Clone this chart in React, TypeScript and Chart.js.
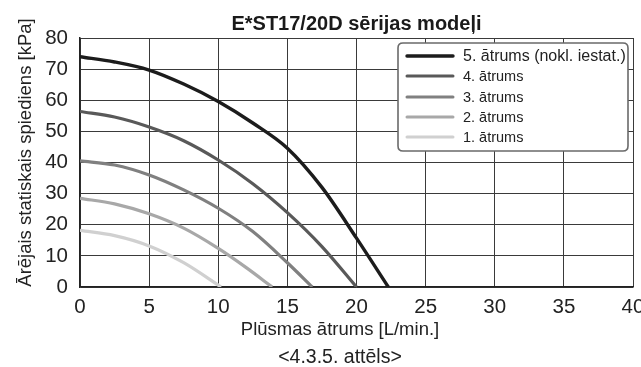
import React, { useEffect, useRef } from "react";
import { Chart, registerables } from "chart.js";

Chart.register(...registerables);

// ---------- data ----------
const TITLE = "E*ST17/20D sērijas modeļi";
const X_TITLE = "Plūsmas ātrums [L/min.]";
const Y_TITLE = "Ārējais statiskais spiediens [kPa]";
const CAPTION = "<4.3.5. attēls>";

const seriesLabels = [
  "5. ātrums (nokl. iestat.)",
  "4. ātrums",
  "3. ātrums",
  "2. ātrums",
  "1. ātrums",
];
const seriesColors = ["#1c1c1c", "#595959", "#808080", "#a8a8a8", "#d0d0d0"];

const speed5Flow = [0, 2.5, 5, 7.5, 10, 12.5, 15, 17.5, 20, 22.3];
const speed5Pressure = [74, 72.3, 69.7, 65.2, 59.6, 52.7, 44.6, 32, 15.7, 0];

const speed4Flow = [0, 2.5, 5, 7.5, 10, 12.5, 15, 17.5, 20];
const speed4Pressure = [56.4, 54.6, 51.4, 47, 40.8, 33.2, 23.9, 13, 0];

const speed3Flow = [0, 2.5, 5, 7.5, 10, 12.5, 15, 16.8];
const speed3Pressure = [40.5, 39.2, 36, 31.2, 25.3, 17.8, 7.8, 0];

const speed2Flow = [0, 2.5, 5, 7.5, 10, 12, 13.9];
const speed2Pressure = [28.5, 26.7, 23.5, 18.9, 12.4, 6.3, 0];

const speed1Flow = [0, 2.5, 5, 7.5, 10.2];
const speed1Pressure = [18.2, 16.5, 13.2, 7.8, 0];

const X_MIN = 0;
const X_MAX = 40;
const X_STEP = 5;
const Y_MIN = 0;
const Y_MAX = 80;
const Y_STEP = 10;

const FONT = "'Liberation Sans', Arial, Helvetica, sans-serif";

const seriesFlows = [speed5Flow, speed4Flow, speed3Flow, speed2Flow, speed1Flow];
const seriesPressures = [speed5Pressure, speed4Pressure, speed3Pressure, speed2Pressure, speed1Pressure];

const textPlugin = {
  id: "customTexts",
  afterDraw(chart: any) {
    const ctx = chart.ctx as CanvasRenderingContext2D;
    const a = chart.chartArea;
    ctx.save();

    // ----- legend box -----
    const bw = 230;
    const bh = 108;
    const bx = a.right - 5 - bw;
    const by = a.top + 5;
    const r = 5;
    ctx.beginPath();
    ctx.moveTo(bx + r, by);
    ctx.lineTo(bx + bw - r, by);
    ctx.quadraticCurveTo(bx + bw, by, bx + bw, by + r);
    ctx.lineTo(bx + bw, by + bh - r);
    ctx.quadraticCurveTo(bx + bw, by + bh, bx + bw - r, by + bh);
    ctx.lineTo(bx + r, by + bh);
    ctx.quadraticCurveTo(bx, by + bh, bx, by + bh - r);
    ctx.lineTo(bx, by + r);
    ctx.quadraticCurveTo(bx, by, bx + r, by);
    ctx.closePath();
    ctx.fillStyle = "#ffffff";
    ctx.fill();
    ctx.lineWidth = 1.6;
    ctx.strokeStyle = "#6a6a6a";
    ctx.stroke();

    const rowOffsets = [13, 33, 54, 74, 94];
    chart.data.datasets.forEach((ds: any, i: number) => {
      const y = by + rowOffsets[i];
      ctx.beginPath();
      ctx.moveTo(bx + 9, y);
      ctx.lineTo(bx + 55, y);
      ctx.lineWidth = i === 0 ? 3.4 : 3;
      ctx.strokeStyle = ds.borderColor;
      ctx.lineCap = "round";
      ctx.stroke();
      ctx.fillStyle = "#222";
      ctx.font = (i === 0 ? "16px " : "14.5px ") + FONT;
      ctx.textAlign = "left";
      ctx.textBaseline = "middle";
      ctx.fillText(ds.label, bx + 65, y + 1);
    });

    // ----- title -----
    ctx.fillStyle = "#1a1a1a";
    ctx.textAlign = "center";
    ctx.textBaseline = "alphabetic";
    ctx.font = "bold 20px " + FONT;
    ctx.fillText(TITLE, (a.left + a.right) / 2, 30);

    // ----- x title -----
    ctx.fillStyle = "#222";
    ctx.font = "18.5px " + FONT;
    ctx.fillText(X_TITLE, 340, 335);

    // ----- caption -----
    ctx.font = "19.5px " + FONT;
    ctx.fillText(CAPTION, 340, 363);

    // ----- y title -----
    ctx.translate(31, 152.5);
    ctx.rotate(-Math.PI / 2);
    ctx.font = "18.5px " + FONT;
    ctx.fillText(Y_TITLE, 0, 0);

    ctx.restore();
  },
};

export default function App() {
  const ref = useRef<HTMLCanvasElement | null>(null);

  useEffect(() => {
    if (!ref.current) return;
    const datasets = seriesLabels.map((label, i) => ({
      label,
      data: seriesFlows[i].map((x, j) => ({ x, y: seriesPressures[i][j] })),
      borderColor: seriesColors[i],
      backgroundColor: seriesColors[i],
      borderWidth: i === 0 ? 3.4 : 3.2,
      pointRadius: 0,
      cubicInterpolationMode: "monotone" as const,
      fill: false,
    }));

    const chart = new Chart(ref.current, {
      type: "line",
      data: { datasets },
      options: {
        animation: false,
        responsive: false,
        devicePixelRatio: 1,
        layout: { padding: { left: 0, top: 38, right: 8, bottom: 50 } },
        plugins: {
          legend: { display: false },
          title: { display: false },
          tooltip: { enabled: false },
        },
        scales: {
          x: {
            type: "linear",
            min: X_MIN,
            max: X_MAX,
            afterFit(scale: any) {
              scale.height = 30;
              scale.paddingLeft = 0;
              scale.paddingRight = 0;
            },
            afterBuildTicks(scale: any) {
              const t = [];
              for (let v = X_MIN; v <= X_MAX; v += X_STEP) t.push({ value: v });
              scale.ticks = t;
            },
            ticks: {
              color: "#222",
              font: { family: FONT, size: 20.5 },
              padding: 8,
              maxRotation: 0,
              autoSkip: false,
            },
            grid: { color: "#3a3a3a", lineWidth: 1, drawTicks: false },
            border: { color: "#222", width: 1.5 },
          },
          y: {
            type: "linear",
            min: Y_MIN,
            max: Y_MAX,
            afterFit(scale: any) {
              scale.width = 80;
              scale.paddingTop = 0;
              scale.paddingBottom = 0;
            },
            afterBuildTicks(scale: any) {
              const t = [];
              for (let v = Y_MIN; v <= Y_MAX; v += Y_STEP) t.push({ value: v });
              scale.ticks = t;
            },
            ticks: {
              color: "#222",
              font: { family: FONT, size: 20.5 },
              padding: 12,
            },
            grid: { color: "#3a3a3a", lineWidth: 1, drawTicks: false },
            border: { color: "#222", width: 1.5 },
          },
        },
      },
      plugins: [textPlugin],
    });
    return () => chart.destroy();
  }, []);

  return (
    <div style={{ position: "absolute", left: 0, top: 0, width: 641, height: 367, background: "#fff" }}>
      <canvas ref={ref} width={641} height={367} style={{ display: "block" }} />
    </div>
  );
}
